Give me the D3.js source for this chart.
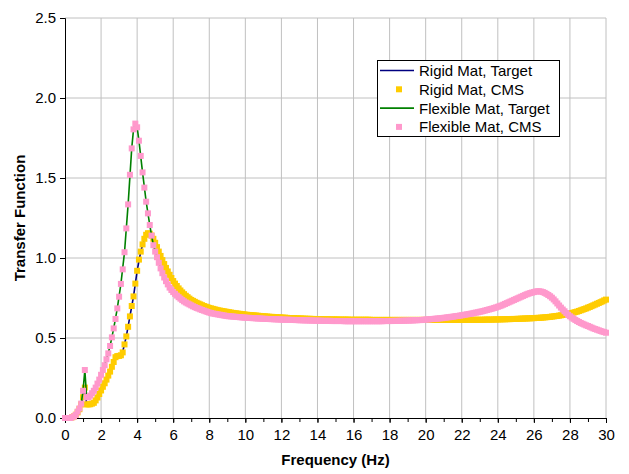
<!DOCTYPE html>
<html><head><meta charset="utf-8">
<script src="https://cdn.jsdelivr.net/npm/d3@7"></script>
<style>
html,body{margin:0;padding:0;background:#fff;}
text{font-family:"Liberation Sans",Arial,sans-serif;}
</style></head>
<body><svg id="chart" width="629" height="474"></svg>
<script>
// Frequency grid of the CMS series (Hz), 0.1 Hz sampling
const freqStep = 0.1;
const freqCount = 301;

const rigidCMS = [
0,0,0,0,0.005,0.01,0.02,0.035,0.055,0.085,
0.13,0.19,0.085,0.085,0.086,0.09,0.095,0.11,0.128,0.15,
0.172,0.195,0.217,0.24,0.265,0.29,0.32,0.35,0.38,0.387,
0.388,0.392,0.41,0.46,0.51,0.57,0.635,0.70,0.76,0.84,
0.92,0.99,1.04,1.085,1.12,1.145,1.155,1.152,1.14,1.12,
1.095,1.068,1.04,1.013,0.987,0.962,0.938,0.916,0.895,0.875,
0.856,0.84,0.825,0.81,0.797,0.785,0.774,0.764,0.755,0.746,
0.738,0.732,0.726,0.720,0.715,0.710,0.705,0.700,0.696,0.692,
0.688,0.685,0.682,0.679,0.676,0.673,0.671,0.669,0.667,0.665,
0.663,0.661,0.659,0.657,0.655,0.654,0.652,0.651,0.649,0.648,
0.646,0.645,0.644,0.643,0.642,0.641,0.640,0.639,0.638,0.637,
0.636,0.635,0.634,0.633,0.632,0.632,0.631,0.630,0.629,0.629,
0.628,0.627,0.627,0.626,0.625,0.625,0.624,0.624,0.623,0.623,
0.622,0.622,0.621,0.621,0.620,0.620,0.620,0.619,0.619,0.619,
0.618,0.618,0.618,0.617,0.617,0.617,0.617,0.616,0.616,0.616,
0.616,0.616,0.615,0.615,0.615,0.615,0.615,0.615,0.614,0.614,
0.614,0.614,0.614,0.614,0.614,0.614,0.614,0.614,0.614,0.614,
0.613,0.613,0.613,0.613,0.613,0.613,0.613,0.613,0.613,0.613,
0.613,0.613,0.613,0.613,0.613,0.613,0.613,0.613,0.613,0.613,
0.613,0.613,0.613,0.613,0.613,0.613,0.613,0.613,0.613,0.613,
0.613,0.613,0.613,0.613,0.613,0.613,0.613,0.613,0.613,0.613,
0.613,0.613,0.613,0.613,0.613,0.613,0.613,0.613,0.613,0.613,
0.613,0.613,0.613,0.614,0.614,0.614,0.614,0.614,0.614,0.614,
0.614,0.614,0.614,0.615,0.615,0.615,0.615,0.615,0.616,0.616,
0.616,0.616,0.617,0.617,0.617,0.618,0.618,0.618,0.619,0.619,
0.619,0.620,0.620,0.621,0.621,0.622,0.622,0.623,0.623,0.624,
0.624,0.625,0.626,0.626,0.627,0.628,0.629,0.630,0.631,0.632,
0.634,0.635,0.637,0.638,0.640,0.642,0.644,0.646,0.648,0.650,
0.653,0.656,0.659,0.662,0.665,0.669,0.673,0.677,0.681,0.685,
0.690,0.694,0.699,0.704,0.709,0.714,0.719,0.724,0.729,0.735,
0.740];

const flexCMS = [
0,0,0,0,0.005,0.01,0.02,0.04,0.06,0.09,
0.17,0.30,0.13,0.13,0.14,0.155,0.17,0.19,0.215,0.24,
0.27,0.30,0.33,0.367,0.404,0.45,0.504,0.56,0.619,0.685,
0.758,0.838,0.929,1.036,1.185,1.335,1.52,1.685,1.804,1.84,
1.817,1.733,1.638,1.535,1.44,1.352,1.279,1.206,1.14,1.08,
1.04,1.005,0.97,0.935,0.905,0.878,0.855,0.835,0.815,0.80,
0.787,0.776,0.765,0.755,0.746,0.737,0.729,0.722,0.716,0.710,
0.704,0.698,0.693,0.688,0.684,0.679,0.675,0.671,0.667,0.663,
0.659,0.656,0.653,0.651,0.649,0.647,0.645,0.643,0.641,0.639,
0.637,0.636,0.635,0.634,0.633,0.632,0.631,0.630,0.629,0.628,
0.627,0.626,0.626,0.625,0.624,0.624,0.623,0.622,0.622,0.621,
0.620,0.620,0.619,0.619,0.618,0.618,0.617,0.617,0.616,0.616,
0.615,0.615,0.614,0.614,0.614,0.613,0.613,0.613,0.612,0.612,
0.611,0.611,0.611,0.610,0.610,0.610,0.609,0.609,0.609,0.608,
0.608,0.608,0.608,0.607,0.607,0.607,0.607,0.607,0.606,0.606,
0.606,0.606,0.606,0.606,0.606,0.605,0.605,0.605,0.605,0.605,
0.605,0.605,0.605,0.605,0.605,0.605,0.605,0.605,0.605,0.605,
0.605,0.605,0.605,0.605,0.605,0.605,0.605,0.606,0.606,0.606,
0.606,0.606,0.607,0.607,0.607,0.607,0.608,0.608,0.608,0.609,
0.609,0.609,0.610,0.610,0.611,0.611,0.612,0.612,0.613,0.614,
0.615,0.616,0.617,0.618,0.619,0.620,0.621,0.622,0.623,0.624,
0.626,0.627,0.629,0.630,0.632,0.633,0.635,0.637,0.638,0.640,
0.642,0.644,0.646,0.648,0.650,0.652,0.654,0.657,0.659,0.661,
0.664,0.666,0.669,0.672,0.675,0.678,0.681,0.684,0.688,0.691,
0.695,0.699,0.703,0.708,0.713,0.718,0.723,0.728,0.733,0.738,
0.743,0.748,0.753,0.758,0.763,0.768,0.773,0.777,0.781,0.784,
0.787,0.790,0.792,0.792,0.790,0.787,0.782,0.776,0.769,0.761,
0.752,0.741,0.729,0.716,0.703,0.690,0.678,0.667,0.656,0.645,
0.636,0.628,0.620,0.613,0.606,0.600,0.594,0.589,0.584,0.579,
0.575,0.570,0.565,0.560,0.556,0.552,0.548,0.544,0.540,0.537,
0.533];

// Target (analytical) curves, own frequency samples
const rigidTargetFreq = [0,0.5,0.7,0.9,1.0,1.1,1.2,1.4,1.6,1.8,2.0,2.2,2.4,2.6,2.8,3.0,3.2,3.4,3.6,3.8,4.0,4.2,4.4,4.6,4.8,5.0,5.5,6.0,7.0,8.0,10,12,15,18,22,25,27,28,29,30];
const rigidTarget = [0,0.01,0.035,0.085,0.13,0.19,0.085,0.086,0.095,0.128,0.172,0.217,0.265,0.32,0.375,0.39,0.415,0.51,0.635,0.76,0.92,1.04,1.12,1.155,1.14,1.095,0.962,0.856,0.738,0.688,0.646,0.628,0.616,0.613,0.613,0.619,0.634,0.653,0.690,0.740];
const flexTargetFreq = [0,0.5,0.7,0.9,1.0,1.1,1.2,1.3,1.5,1.7,1.9,2.1,2.3,2.5,2.7,2.9,3.1,3.3,3.5,3.7,3.8,3.9,4.0,4.1,4.3,4.5,4.7,4.9,5.2,5.5,6.0,7.0,8.0,10,12,15,18,20,22,24,25,26,26.3,27,28,29,30];
const flexTarget = [0,0.01,0.04,0.09,0.17,0.30,0.13,0.13,0.155,0.19,0.24,0.30,0.367,0.45,0.56,0.685,0.838,1.036,1.335,1.685,1.804,1.84,1.817,1.733,1.535,1.352,1.206,1.08,0.97,0.878,0.787,0.704,0.659,0.627,0.615,0.606,0.606,0.615,0.642,0.695,0.743,0.787,0.792,0.752,0.636,0.575,0.533];

const xTicks = [0,2,4,6,8,10,12,14,16,18,20,22,24,26,28,30];
const xMinorTicks = d3.range(0, 31, 1);
const yTicks = [0,0.5,1.0,1.5,2.0,2.5];

const seriesNames = ["Rigid Mat, Target","Rigid Mat, CMS","Flexible Mat, Target","Flexible Mat, CMS"];
const seriesColors = ["#000080","#FFCC00","#008000","#FF99CC"];
const seriesKinds = ["line","marker","line","marker"];

const svg = d3.select("#chart");
const L = 65, R = 606, T = 18, B = 418;
const x = d3.scaleLinear().domain([0,30]).range([L,R]);
const y = d3.scaleLinear().domain([0,2.5]).range([B,T]);

// grid
svg.append("g").selectAll("line").data(xTicks.filter(d=>d>0)).join("line")
  .attr("x1",d=>x(d)).attr("x2",d=>x(d)).attr("y1",T).attr("y2",B)
  .attr("stroke","#c0c0c0").attr("stroke-width",1);
svg.append("g").selectAll("line").data(yTicks.filter(d=>d>0)).join("line")
  .attr("x1",L).attr("x2",R).attr("y1",d=>y(d)).attr("y2",d=>y(d))
  .attr("stroke","#c0c0c0").attr("stroke-width",1);

// axes
svg.append("g").attr("transform",`translate(0,${B})`)
  .call(d3.axisBottom(x).tickValues(xTicks).tickFormat(d3.format("d")).tickSize(5).tickPadding(6));
svg.append("g").attr("transform",`translate(0,${B})`)
  .call(d3.axisBottom(x).tickValues(xMinorTicks).tickFormat("").tickSize(4))
  .select(".domain").remove();
svg.append("g").attr("transform",`translate(${L},0)`)
  .call(d3.axisLeft(y).tickValues(yTicks).tickFormat(d3.format(".1f")).tickSize(5).tickPadding(4));
svg.selectAll(".tick text").attr("font-size",15).attr("fill","#000").attr("font-family","Liberation Sans, Arial, sans-serif");
svg.selectAll(".domain").attr("stroke","#000").attr("stroke-width",1);
svg.selectAll(".tick line").attr("stroke","#000");

// axis titles
svg.append("text").attr("x",(L+R)/2).attr("y",465).attr("text-anchor","middle")
  .attr("font-size",15).attr("font-weight","bold").text("Frequency (Hz)");
svg.append("text").attr("transform",`translate(25,${(T+B)/2}) rotate(-90)`).attr("text-anchor","middle")
  .attr("font-size",15).attr("font-weight","bold").text("Transfer Function");

const cmsFreq = d3.range(freqCount).map(i => +(i*freqStep).toFixed(1));
const line = d3.line().x(d=>x(d[0])).y(d=>y(d[1]));
const ms = 6;

function drawLine(fs, vs, color){
  svg.append("path").datum(fs.map((f,i)=>[f,vs[i]]))
    .attr("d",line).attr("fill","none").attr("stroke",color).attr("stroke-width",1.6);
}
function drawMarkers(vs, color){
  svg.append("g").selectAll("rect").data(vs.map((v,i)=>[cmsFreq[i],v])).join("rect")
    .attr("x",d=>x(d[0])-ms/2).attr("y",d=>y(d[1])-ms/2)
    .attr("width",ms).attr("height",ms).attr("fill",color);
}
drawLine(rigidTargetFreq, rigidTarget, seriesColors[0]);
drawMarkers(rigidCMS, seriesColors[1]);
drawLine(flexTargetFreq, flexTarget, seriesColors[2]);
drawMarkers(flexCMS, seriesColors[3]);

// legend
const lg = svg.append("g");
lg.append("rect").attr("x",377.5).attr("y",60.5).attr("width",182).attr("height",76)
  .attr("fill","#fff").attr("stroke","#000").attr("stroke-width",1);
seriesNames.forEach((name,i)=>{
  const cy = 70.5 + i*18.8;
  if(seriesKinds[i]==="line"){
    lg.append("line").attr("x1",380).attr("x2",414).attr("y1",cy).attr("y2",cy)
      .attr("stroke",seriesColors[i]).attr("stroke-width",1.6);
  } else {
    lg.append("rect").attr("x",399-ms/2).attr("y",cy-ms/2).attr("width",ms).attr("height",ms)
      .attr("fill",seriesColors[i]);
  }
  lg.append("text").attr("x",419).attr("y",cy+5.5).attr("font-size",15).text(name);
});
</script></body></html>
